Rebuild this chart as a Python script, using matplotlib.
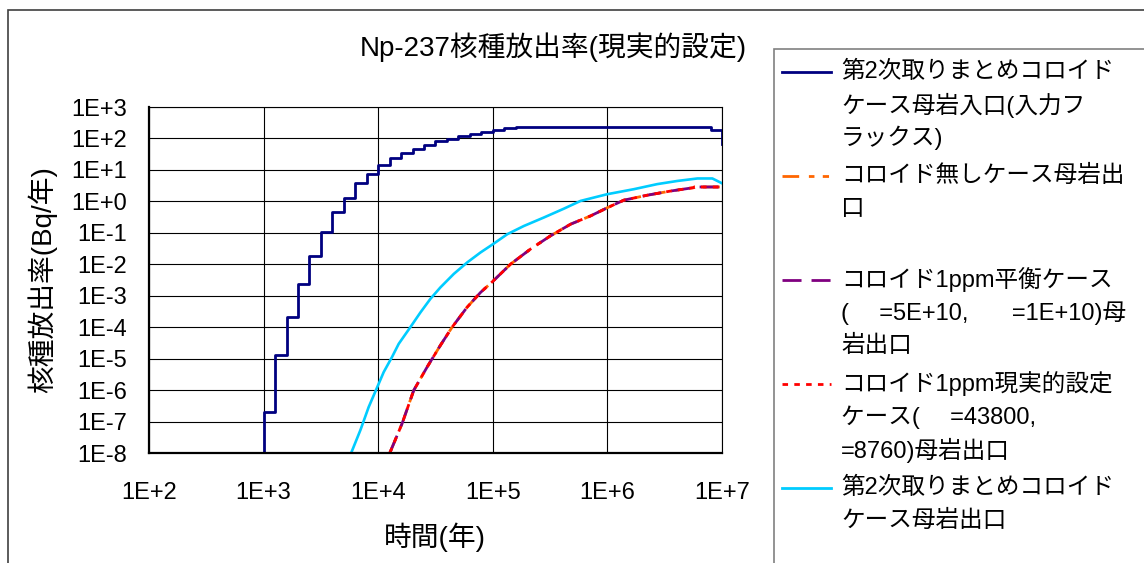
import matplotlib
matplotlib.use("Agg")
from matplotlib import pyplot as plt
from matplotlib.patches import Rectangle
from matplotlib.ticker import NullLocator

plt.rcParams['font.family'] = ['Liberation Sans', 'Noto Sans CJK JP']
plt.rcParams['lines.scale_dashes'] = False

# --- data ---
# 第2次取りまとめコロイドケース 母岩入口 (step curve)
t_inlet = [1000, 1000, 1259, 1585, 1995, 2512, 3162, 3981, 5012, 6310, 7943,
           1.0e4, 1.259e4, 1.585e4, 1.995e4, 2.512e4, 3.162e4, 3.981e4, 5.012e4,
           6.310e4, 7.943e4, 1.0e5, 1.259e5, 1.585e5, 7.943e6, 1.0e7]
q_inlet = [1e-9, 2.1e-7, 1.3e-5, 2.1e-4, 2.4e-3, 1.8e-2, 0.108, 0.47, 1.3, 3.8, 7.3,
           14.3, 24, 35, 48, 64, 81, 98, 118,
           138, 161, 182, 208, 228, 180, 69]

# コロイド無し / 1ppm平衡 / 1ppm現実的設定 (curves lie on top of each other)
t_nocol = [1.259e4, 1.618e4, 2.042e4, 2.673e4, 3.49e4, 4.42e4, 5.97e4, 7.82e4,
           1.01e5, 1.429e5, 2.138e5, 3.19e5, 4.78e5, 7.13e5, 9.98e5, 1.393e6,
           2.23e6, 3.56e6, 5.69e6, 5.75e6, 1.0e7]
q_nocol = [1e-8, 8.9e-8, 1.0e-6, 5.5e-6, 2.69e-5, 1.02e-4, 4.37e-4, 1.29e-3,
           3.0e-3, 1.02e-2, 3.09e-2, 8.1e-2, 0.19, 0.347, 0.63, 1.10,
           1.58, 2.14, 2.75, 2.88, 2.88]
t_eq = list(t_nocol)
q_eq = list(q_nocol)
t_real = list(t_nocol)
q_real = list(q_nocol)

# 第2次取りまとめコロイドケース 母岩出口
t_outlet = [5794, 7000, 8260, 9462, 1.117e4, 1.321e4, 1.51e4, 1.91e4, 2.339e4,
            2.858e4, 3.49e4, 4.57e4, 5.97e4, 7.82e4, 1.01e5, 1.337e5, 1.866e5,
            2.79e5, 4.17e5, 5.83e5, 9.98e5, 1.70e6, 2.72e6, 4.07e6, 6.1e6,
            8.24e6, 1.0e7]
q_outlet = [1e-8, 5.5e-8, 2.95e-7, 9.3e-7, 3.8e-6, 1.15e-5, 3.0e-5, 1.02e-4, 3.0e-4,
            8.1e-4, 1.86e-3, 5.0e-3, 1.15e-2, 2.4e-2, 4.47e-2, 9.1e-2, 0.166,
            0.309, 0.589, 1.04, 1.70, 2.45, 3.55, 4.47, 5.37,
            5.37, 3.77]

x_ticks = [1e2, 1e3, 1e4, 1e5, 1e6, 1e7]
x_tick_labels = ['1E+2', '1E+3', '1E+4', '1E+5', '1E+6', '1E+7']
y_ticks = [1e-8, 1e-7, 1e-6, 1e-5, 1e-4, 1e-3, 1e-2, 1e-1, 1e0, 1e1, 1e2, 1e3]
y_tick_labels = ['1E-8', '1E-7', '1E-6', '1E-5', '1E-4', '1E-3', '1E-2', '1E-1',
                 '1E+0', '1E+1', '1E+2', '1E+3']

legend_labels = [
    ['第2次取りまとめコロイド', 'ケース母岩入口(入力フ', 'ラックス)'],
    ['コロイド無しケース母岩出', '口'],
    ['コロイド1ppm平衡ケース', '(\u3000 =5E+10,\u3000   =1E+10)母', '岩出口'],
    ['コロイド1ppm現実的設定', 'ケース(\u3000 =43800,', '=8760)母岩出口'],
    ['第2次取りまとめコロイド', 'ケース母岩出口'],
]

W, H = 1144, 563


def fx(px):
    return px / W


def fy(py):
    return 1 - py / H


fig = plt.figure(figsize=(W / 100, H / 100), dpi=100)

# outer chart border (runs off the right / bottom edge)
fig.add_artist(Rectangle((fx(8), -0.5), 2, fy(10) + 0.5, transform=fig.transFigure,
                         fill=False, edgecolor='#404040', lw=1.2))

ax = fig.add_axes([fx(149), fy(453.3), fx(722) - fx(149), fy(107) - fy(453.3)])
ax.set_xscale('log')
ax.set_yscale('log')
ax.set_xlim(1e2, 1e7)
ax.set_ylim(1e-8, 1e3)
ax.set_xticks(x_ticks, labels=x_tick_labels)
ax.set_yticks(y_ticks, labels=y_tick_labels)
ax.xaxis.set_minor_locator(NullLocator())
ax.yaxis.set_minor_locator(NullLocator())
ax.grid(True, color='black', lw=0.8)
ax.set_axisbelow(True)
ax.tick_params(axis='both', length=0, labelsize=17)
ax.tick_params(axis='x', pad=21)
ax.tick_params(axis='y', pad=16)
for side in ['top', 'right']:
    ax.spines[side].set_linewidth(0.8)
for side in ['left', 'bottom']:
    ax.spines[side].set_linewidth(1.6)

ax.plot(t_nocol, q_nocol, color='#FF6600', lw=2, ls=(0, (12, 7, 4, 6, 4.5, 6)))
ax.plot(t_eq, q_eq, color='#800080', lw=2, ls=(0, (13.7, 7.2)))
ax.plot(t_real, q_real, color='#FF0000', lw=2, ls=(0, (4, 4.5)))
ax.plot(t_outlet, q_outlet, color='#00CCFF', lw=1.9)
ax.plot(t_inlet, q_inlet, color='#000080', lw=2, drawstyle='steps-post')

fig.text(fx(553), fy(47), 'Np-237核種放出率(現実的設定)', fontsize=20,
         ha='center', va='center')
fig.text(fx(435), fy(537), '時間(年)', fontsize=20, ha='center', va='center')
fig.text(fx(42), fy(280), '核種放出率(Bq/年)', fontsize=20, rotation=90,
         ha='center', va='center')

# legend drawn in pixel coordinates
lax = fig.add_axes([0, 0, 1, 1])
lax.set_xlim(0, W)
lax.set_ylim(H, 0)
lax.axis('off')
lax.patch.set_alpha(0)
lax.add_patch(Rectangle((774, 49), 500, 600, facecolor='white', edgecolor='#808080', lw=1.2))
handle_styles = [
    dict(color='#000080', ls='-'),
    dict(color='#FF6600', ls=(0, (12, 7, 4, 6, 4.5, 6))),
    dict(color='#800080', ls=(0, (13.7, 7.2))),
    dict(color='#FF0000', ls=(0, (4, 4.5))),
    dict(color='#00CCFF', ls='-'),
]
for i, (lines, style) in enumerate(zip(legend_labels, handle_styles)):
    y0 = 72 + 104 * i
    lax.plot([782, 831], [y0, y0], lw=2, **style)
    for j, line in enumerate(lines):
        lax.text(841, y0 + 33 * j, line, fontsize=17, ha='left', va='center')

fig.savefig('out.png', dpi=100)
